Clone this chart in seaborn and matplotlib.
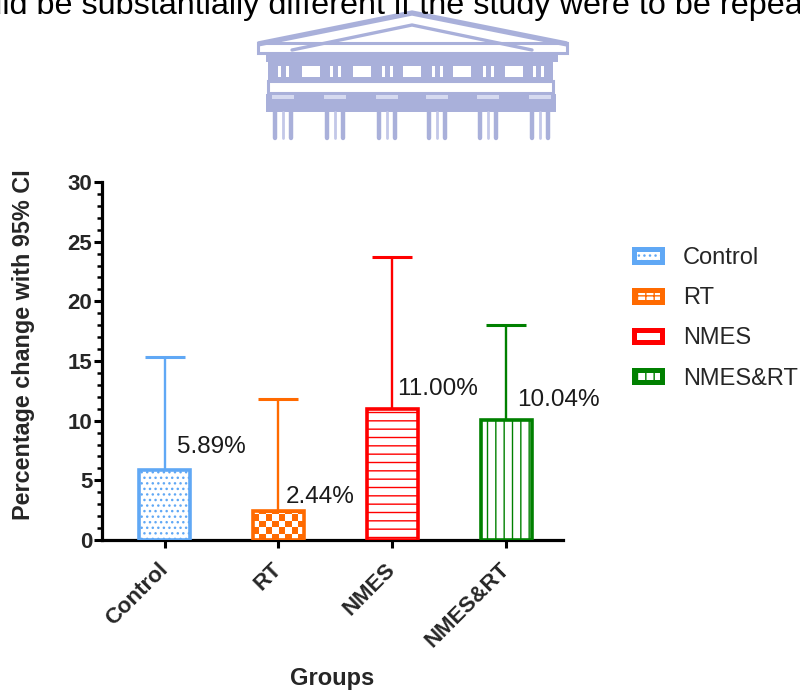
import numpy as np
import pandas as pd
import matplotlib
matplotlib.use('Agg')
import matplotlib.pyplot as plt
import seaborn as sns
from matplotlib.patches import Patch, Rectangle
from matplotlib.colors import ListedColormap
from matplotlib.ticker import MultipleLocator

# ---------------- data ----------------
groups = ['Control', 'RT', 'NMES', 'NMES&RT']
means = [5.89, 2.44, 11.00, 10.04]
ci_upper = [15.3, 11.8, 23.7, 18.0]
value_labels = ['5.89%', '2.44%', '11.00%', '10.04%']
y_ticks = [0, 5, 10, 15, 20, 25, 30]
header_text = 'would be substantially different if the study were to be repeated'

# ---------------- style ----------------
colors = ['#60A8F5', '#FF6A00', '#FF0000', '#008000']
hatches = ['...', 'checker', '--', '||']
legend_hatches = ['...', '++', '', '||']
label_offsets = [(9.0, 12.0), (5.5, 5.8), (3.2, 10.0), (7.6, 10.0)]
logo_c = '#A9B0DA'

sns.set_theme(style='ticks')
plt.rcParams['font.family'] = ['Liberation Sans', 'DejaVu Sans']
plt.rcParams['hatch.linewidth'] = 1.0

fig = plt.figure(figsize=(8, 6.9), dpi=100)

# ---------------- background decoration (header text + watermark) ----------------
bg = fig.add_axes([0, 0, 1, 1], zorder=-5)
bg.set_xlim(0, 800)
bg.set_ylim(690, 0)
bg.axis('off')

def rect(x0, y0, x1, y1, fc=logo_c, ec='none', lw=0):
    bg.add_patch(Rectangle((x0, y0), x1 - x0, y1 - y0, facecolor=fc, edgecolor=ec, linewidth=lw))

# pediment
bg.plot([258, 412, 567], [44, 13, 44], color=logo_c, lw=3.8, solid_capstyle='butt', solid_joinstyle='miter')
bg.plot([292, 412, 532], [50, 25, 50], color=logo_c, lw=2.4, solid_joinstyle='miter')
rect(258, 43, 567, 53, fc='none', ec=logo_c, lw=2.2)
rect(266, 54, 558, 62)
# frieze with windows
rect(268, 62, 553, 80)
for wx in [302, 353, 403, 453, 505]:
    rect(wx, 66, wx + 18, 77, fc='white')
for sx in [278, 330, 382, 432, 483, 533]:
    rect(sx, 66, sx + 3, 77, fc='white')
    rect(sx + 8, 66, sx + 11, 77, fc='white')
# architrave
rect(268, 81, 553, 93, fc='none', ec=logo_c, lw=2.2)
# capitals band
rect(266, 94, 556, 112)
for cx in [283, 335, 387, 437, 488, 540]:
    rect(cx - 11, 95, cx + 11, 99, fc='#D6DAF0')
    bg.plot([cx - 8, cx - 8], [112, 138], color=logo_c, lw=3.2)
    bg.plot([cx, cx], [112, 138], color='#C3C8E8', lw=2.0)
    bg.plot([cx + 8, cx + 8], [112, 138], color=logo_c, lw=3.2)

bg.text(-57, 14, header_text, fontsize=23.3, color='black', ha='left', va='baseline')

# ---------------- main chart ----------------
ax = fig.add_axes([0.1275, 0.2174, 0.5763, 0.5188])
df = pd.DataFrame({'group': groups, 'value': means})
sns.barplot(data=df, x='group', y='value', hue='group', palette=colors,
            order=groups, hue_order=groups, errorbar=None, width=0.45,
            legend=False, ax=ax)

ax.set_xlim(-0.55, 3.5)
ax.set_ylim(0, 30)

bars = list(ax.patches)
pxx = fig.get_figwidth() * fig.dpi * 0.5763 / (3.5 + 0.55)
pxy = fig.get_figheight() * fig.dpi * 0.5188 / 30.0
cell_px = 6.3

for bar, c, h, m, up, lab, off in zip(bars, colors, hatches, means, ci_upper, value_labels, label_offsets):
    bar.set_edgecolor(c)
    bar.set_linewidth(2.6)
    bar.set_zorder(3)
    xc = bar.get_x() + bar.get_width() / 2
    if h == 'checker':
        bar.set_facecolor('none')
        x0, w, hh = bar.get_x(), bar.get_width(), bar.get_height()
        ncols = max(1, int(round(w * pxx / cell_px)))
        nrows = int(np.ceil(hh * pxy / cell_px)) + 1
        cy = cell_px / pxy
        board = np.add.outer(np.arange(nrows), np.arange(ncols)) % 2
        im = ax.imshow(board, cmap=ListedColormap(['white', c]), origin='lower',
                       extent=(x0, x0 + w, 0, nrows * cy), aspect='auto',
                       interpolation='nearest', zorder=2)
        im.set_clip_path(bar)
    else:
        bar.set_facecolor('white')
        bar.set_hatch(h)
    ax.errorbar(xc, m, yerr=[[0], [up - m]], fmt='none', ecolor=c,
                elinewidth=1.7, capsize=14.4, capthick=2.2, zorder=2)
    ax.annotate(lab, xy=(xc, m), xytext=off, textcoords='offset points',
                ha='left', va='baseline', fontsize=17.5, color='#1a1a1a')

ax.set_xlim(-0.55, 3.5)
ax.set_ylim(0, 30)

sns.despine(ax=ax)
for s in ['left', 'bottom']:
    ax.spines[s].set_linewidth(2.3)
    ax.spines[s].set_color('black')

ax.set_yticks(y_ticks)
ax.yaxis.set_minor_locator(MultipleLocator(1))
ax.tick_params(axis='y', which='major', length=6, width=2.2, labelsize=16, pad=1, color='black')
ax.tick_params(axis='y', which='minor', length=3.5, width=1.8, color='black')
ax.tick_params(axis='x', which='major', length=6, width=2.2, labelsize=16, pad=13, color='black')

ax.set_xticks(range(len(groups)))
ax.set_xticklabels(groups)
for lbl in ax.get_xticklabels():
    lbl.set_rotation(45)
    lbl.set_ha('right')
    lbl.set_va('center')
    lbl.set_rotation_mode('anchor')
    lbl.set_fontweight('bold')
for lbl in ax.get_yticklabels():
    lbl.set_fontweight('bold')

ax.set_xlabel('Groups', fontsize=17, fontweight='bold')
ax.xaxis.set_label_coords(0.5, -0.355)
ax.set_ylabel('Percentage change with 95% CI', fontsize=16.8, fontweight='bold')
ax.yaxis.set_label_coords(-0.145, 0.545)

# legend
handles = [Patch(facecolor='white', edgecolor=c, linewidth=3.6, hatch=(lh if lh else None), label=g)
           for g, c, lh in zip(groups, colors, legend_hatches)]
fig.legend(handles=handles, loc='upper left', bbox_to_anchor=(634 / 800, 1 - 247 / 690),
           frameon=False, fontsize=17, handlelength=1.19, handleheight=0.42,
           handletextpad=0.87, labelspacing=0.77, borderpad=0, borderaxespad=0)

fig.savefig('out.png', dpi=100)
